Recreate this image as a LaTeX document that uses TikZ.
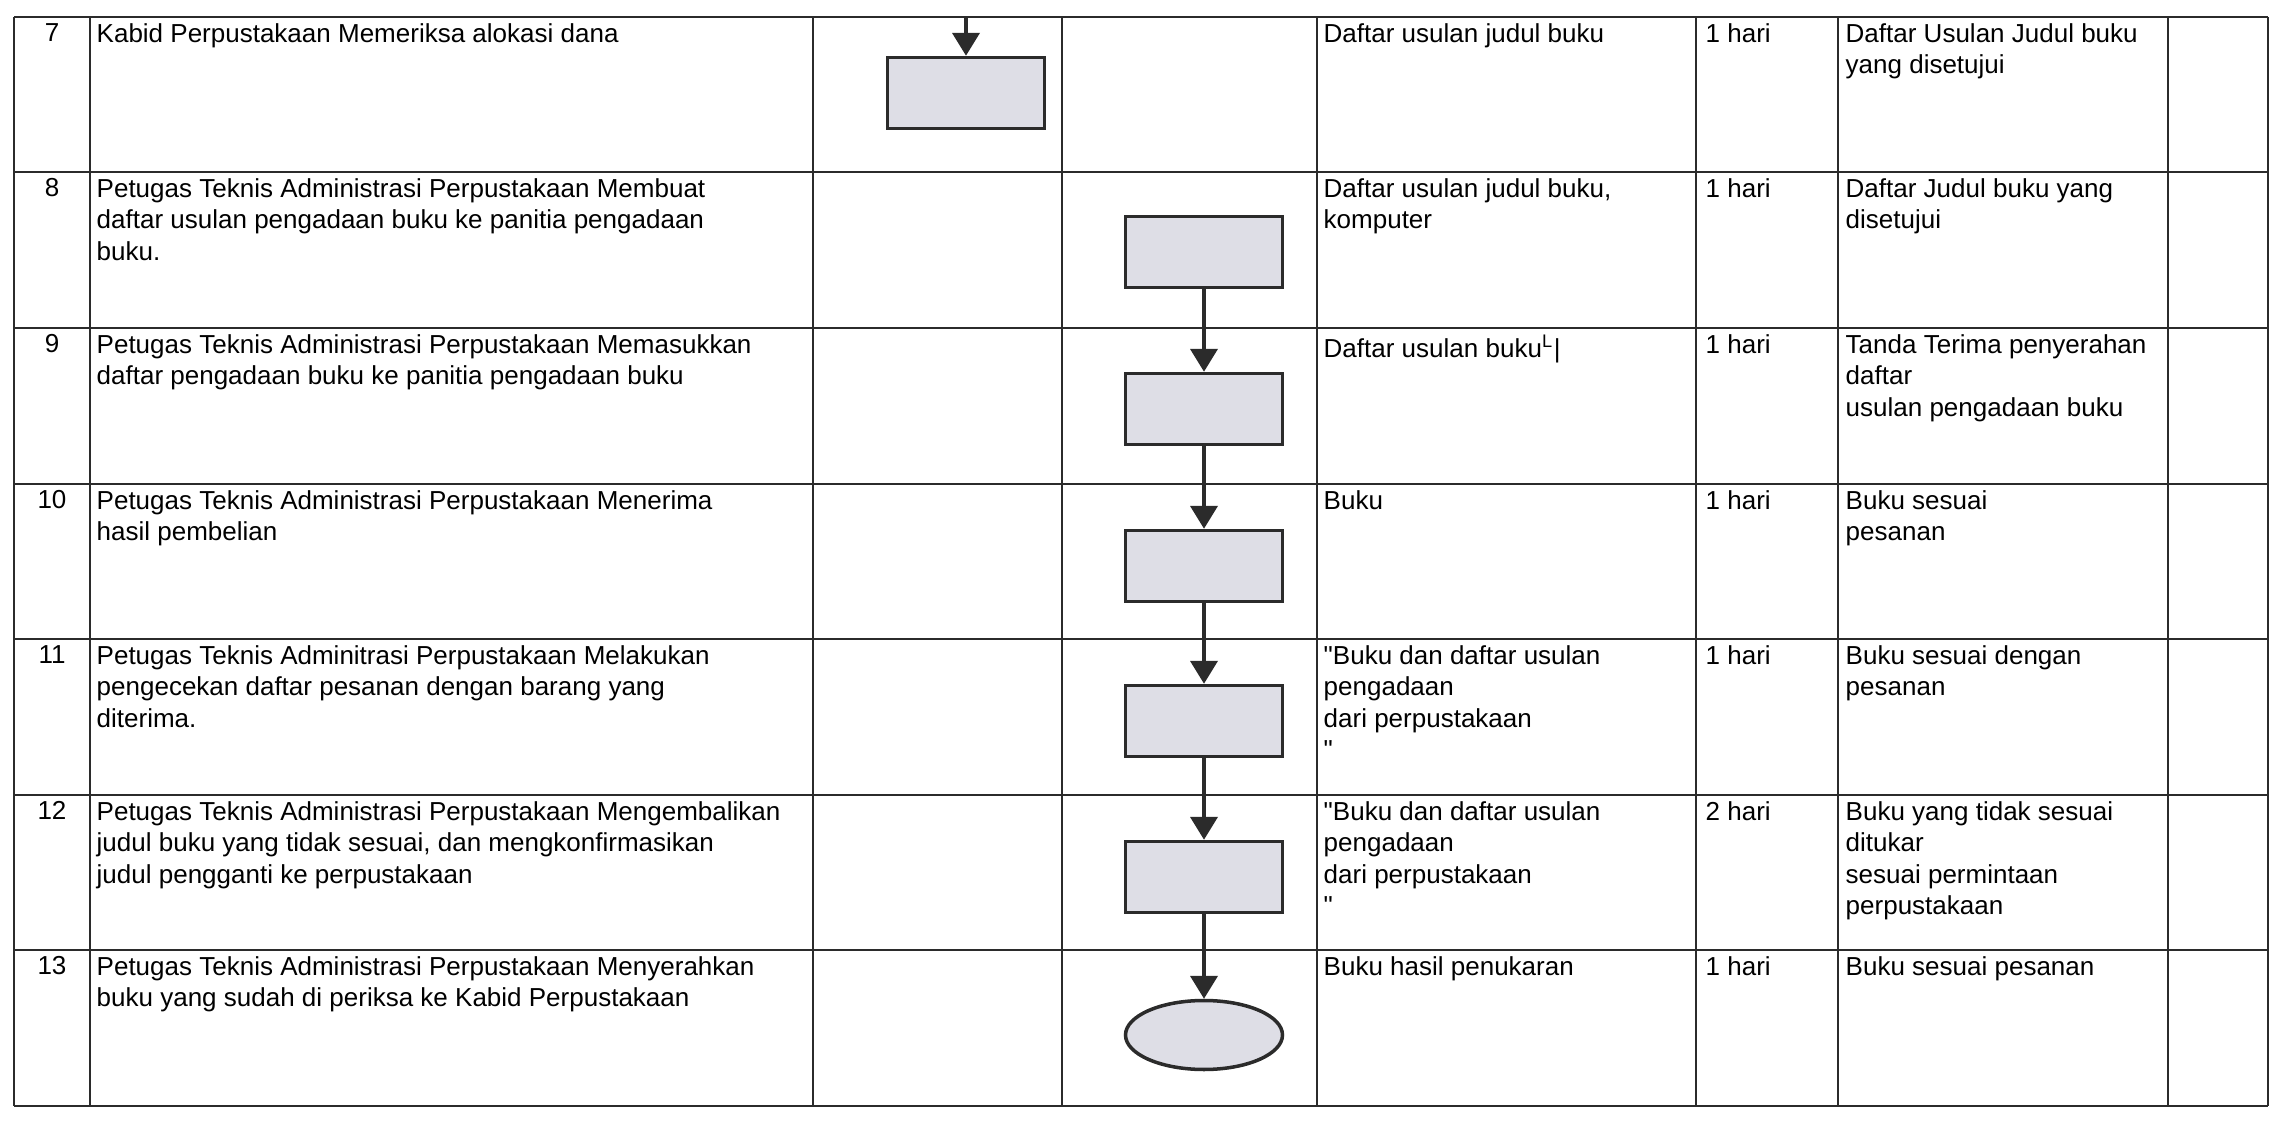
\documentclass[tikz,border=0pt]{standalone}
\usepackage{fontspec}
\setmainfont{Liberation Sans}
\usepackage{xcolor}
\usepackage{tikz}
\usetikzlibrary{positioning, arrows.meta, shapes.geometric}
\definecolor{garis}{HTML}{2B2B2B}
\definecolor{kotak}{HTML}{DEDEE6}
\tikzset{
  sel/.style={anchor=north west, inner sep=0pt, align=left, font=\fontsize{7.4}{8.9}\selectfont},
  nomor/.style={anchor=north, inner sep=0pt, font=\fontsize{7.4}{8.9}\selectfont},
  proses/.style={draw=garis, fill=kotak, line width=1pt, minimum width=15.7mm, minimum height=7.1mm, inner sep=0pt},
  akhir/.style={ellipse, draw=garis, fill=kotak, line width=1pt, minimum width=15.7mm, minimum height=6.9mm, inner sep=0pt},
  alur/.style={draw=garis, line width=1pt, -{Triangle[length=6.5pt,width=7.7pt]}}
}
\begin{document}
\begin{tikzpicture}[x=0.1mm, y=-0.1mm]
\useasboundingbox (0,0) rectangle (2274,1122);
%garis tabel
\draw[garis, line width=0.85pt] (14,17) -- (2268,17) (14,172) -- (2268,172) (14,328) -- (2268,328)
	(14,484) -- (2268,484) (14,639) -- (2268,639) (14,795) -- (2268,795)
	(14,950) -- (2268,950) (14,1106) -- (2268,1106);
\draw[garis, line width=0.6pt] (14,17) -- (14,1106) (90,17) -- (90,1106) (813,17) -- (813,1106)
	(1062,17) -- (1062,1106) (1317,17) -- (1317,1106) (1696,17) -- (1696,1106)
	(1838,17) -- (1838,1106) (2168,17) -- (2168,1106) (2268,17) -- (2268,1106);

%baris 7
\node[nomor] (n7) at (52,23) {7};
\node[sel] (d7) at (96,23) {Kabid Perpustakaan Memeriksa alokasi dana};
\node[sel] (r7) at (1323,23) {Daftar usulan judul buku};
\node[sel] (t7) at (1705,23) {1 hari};
\node[sel] (o7) at (1845,23) {Daftar Usulan Judul buku\\yang disetujui};
%baris 8
\node[nomor] (n8) at (52,178) {8};
\node[sel] (d8) at (96,178) {Petugas Teknis Administrasi Perpustakaan Membuat\\daftar usulan pengadaan buku ke panitia pengadaan\\buku.};
\node[sel] (r8) at (1323,178) {Daftar usulan judul buku,\\komputer};
\node[sel] (t8) at (1705,178) {1 hari};
\node[sel] (o8) at (1845,178) {Daftar Judul buku yang\\disetujui};
%baris 9
\node[nomor] (n9) at (52,334) {9};
\node[sel] (d9) at (96,334) {Petugas Teknis Administrasi Perpustakaan Memasukkan\\daftar pengadaan buku ke panitia pengadaan buku};
\node[sel] (r9) at (1323,334) {Daftar usulan buku\textsuperscript{L}|};
\node[sel] (t9) at (1705,334) {1 hari};
\node[sel] (o9) at (1845,334) {Tanda Terima penyerahan\\daftar\\usulan pengadaan buku};
%baris 10
\node[nomor] (n10) at (52,490) {10};
\node[sel] (d10) at (96,490) {Petugas Teknis Administrasi Perpustakaan Menerima\\hasil pembelian};
\node[sel] (r10) at (1323,490) {Buku};
\node[sel] (t10) at (1705,490) {1 hari};
\node[sel] (o10) at (1845,490) {Buku sesuai\\pesanan};
%baris 11
\node[nomor] (n11) at (52,645) {11};
\node[sel] (d11) at (96,645) {Petugas Teknis Adminitrasi Perpustakaan Melakukan\\pengecekan daftar pesanan dengan barang yang\\diterima.};
\node[sel] (r11) at (1323,645) {\textquotedbl Buku dan daftar usulan\\pengadaan\\dari perpustakaan\\\textquotedbl};
\node[sel] (t11) at (1705,645) {1 hari};
\node[sel] (o11) at (1845,645) {Buku sesuai dengan\\pesanan};
%baris 12
\node[nomor] (n12) at (52,801) {12};
\node[sel] (d12) at (96,801) {Petugas Teknis Administrasi Perpustakaan Mengembalikan\\judul buku yang tidak sesuai, dan mengkonfirmasikan\\judul pengganti ke perpustakaan};
\node[sel] (r12) at (1323,801) {\textquotedbl Buku dan daftar usulan\\pengadaan\\dari perpustakaan\\\textquotedbl};
\node[sel] (t12) at (1705,801) {2 hari};
\node[sel] (o12) at (1845,801) {Buku yang tidak sesuai\\ditukar\\sesuai permintaan\\perpustakaan};
%baris 13
\node[nomor] (n13) at (52,956) {13};
\node[sel] (d13) at (96,956) {Petugas Teknis Administrasi Perpustakaan Menyerahkan\\buku yang sudah di periksa ke Kabid Perpustakaan};
\node[sel] (r13) at (1323,956) {Buku hasil penukaran};
\node[sel] (t13) at (1705,956) {1 hari};
\node[sel] (o13) at (1845,956) {Buku sesuai pesanan};

%bagan alur
\coordinate (mulai) at (966,17);
\node[proses] (p7) at (966,93) {};
\node[proses] (p8) at (1204,252) {};
\node[proses] (p9) at (1204,409) {};
\node[proses] (p10) at (1204,566) {};
\node[proses] (p11) at (1204,721) {};
\node[proses] (p12) at (1204,877) {};
\node[akhir] (p13) at (1204,1035) {};

\draw[alur] (mulai) -- (p7);
\draw[alur] (p8) -- (p9);
\draw[alur] (p9) -- (p10);
\draw[alur] (p10) -- (p11);
\draw[alur] (p11) -- (p12);
\draw[alur] (p12) -- (p13);
\end{tikzpicture}
\end{document}
